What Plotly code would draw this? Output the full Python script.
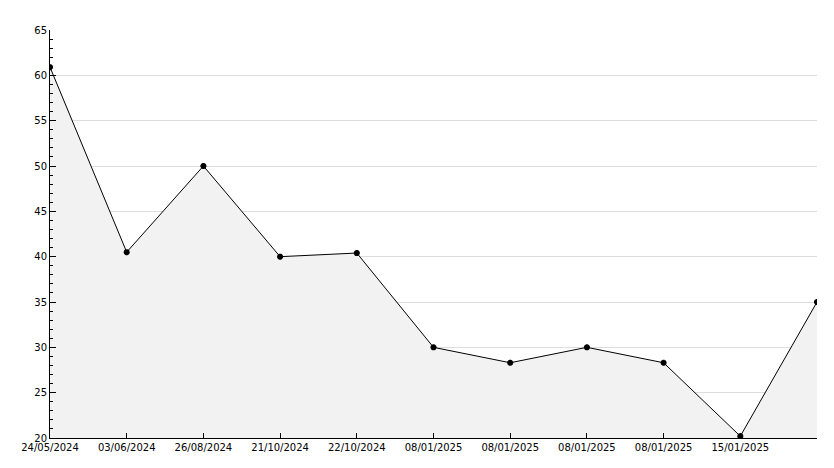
import plotly.graph_objects as go

dates = ['24/05/2024', '03/06/2024', '26/08/2024', '21/10/2024', '22/10/2024',
         '08/01/2025', '08/01/2025', '08/01/2025', '08/01/2025', '15/01/2025', '23/06/2025']
values = [60.9, 40.5, 50.0, 40.0, 40.4, 30.0, 28.3, 30.0, 28.3, 20.2, 35.0]
x = list(range(len(dates)))

fig = go.Figure()
fig.add_trace(go.Scatter(
    x=x, y=values, mode='lines+markers',
    line=dict(color='black', width=1),
    marker=dict(symbol='asterisk', size=5, color='black', line=dict(width=2, color='black')),
    fill='tozeroy', fillcolor='#f2f2f2'
))
fig.update_layout(
    width=834, height=468,
    margin=dict(l=42, r=25, t=22, b=38),
    plot_bgcolor='white', paper_bgcolor='white',
    showlegend=False,
    font=dict(family='DejaVu Sans', size=10, color='black'),
    xaxis=dict(
        range=[0, len(dates) - 1], tickvals=x, ticktext=dates,
        showgrid=False, zeroline=False, ticks='inside', ticklen=5,
        showline=True, linecolor='black', tickcolor='black',
        tickfont=dict(size=10),
    ),
    yaxis=dict(
        range=[20, 65], dtick=5, tick0=20, ticks='inside', ticklen=6,
        showline=True, linecolor='black', tickcolor='black',
        gridcolor='#dddddd', zeroline=False,
        minor=dict(dtick=1, ticks='inside', ticklen=3, tickcolor='black', showgrid=False),
    ),
)
fig.write_html("out.html")
